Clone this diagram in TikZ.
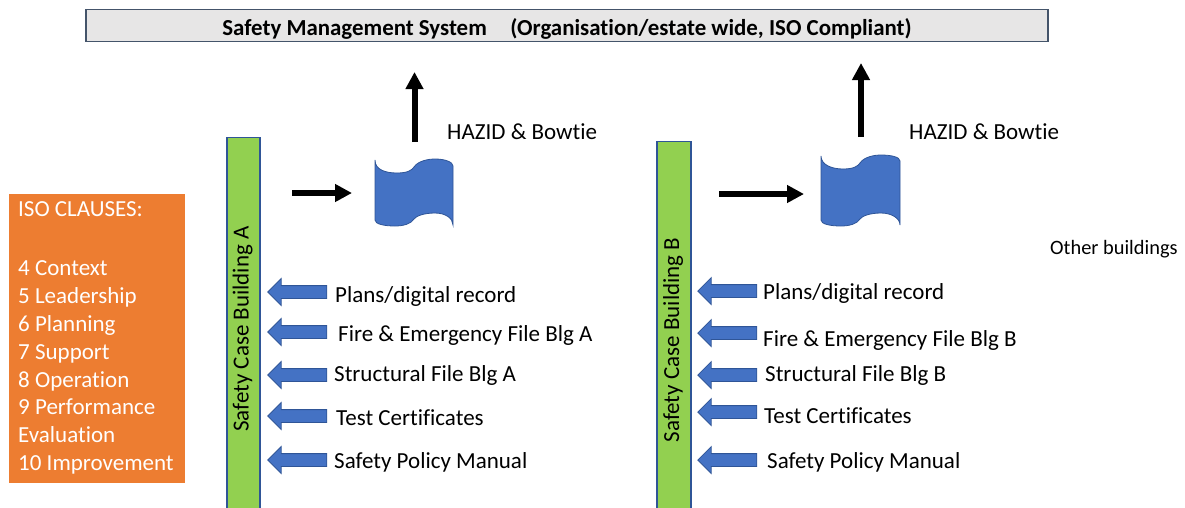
\documentclass[tikz,border=0pt]{standalone}
\usepackage{fontspec}
\setmainfont[Ligatures=NoCommon]{Carlito}
\usetikzlibrary{shapes.arrows,arrows.meta}
\definecolor{barblue}{HTML}{2F5597}
\definecolor{fillblue}{HTML}{4472C4}
\definecolor{bargreen}{HTML}{92D050}
\definecolor{isoorange}{HTML}{ED7D31}
\definecolor{smsgrey}{HTML}{E7E6E6}
\definecolor{smsedge}{HTML}{44546A}
\tikzset{
	barnode/.style={draw=barblue, line width=1.6pt, fill=bargreen, minimum width=33pt, inner sep=0pt, anchor=north west},
	filearrow/.style={single arrow, draw=barblue, line width=0.8pt, fill=fillblue, single arrow head extend=7pt, single arrow tip angle=90, minimum height=59pt, inner xsep=0pt, inner ysep=6pt, shape border rotate=180},
	filelabel/.style={anchor=west, font=\fontsize{23}{27}\selectfont, inner sep=0pt},
	blackarrow/.style={line width=6pt, -{Triangle[length=17pt, width=17pt]}},
	bartext/.style={rotate=90, font=\fontsize{23}{27}\selectfont, inner sep=0pt},
	wavefill/.style={draw=barblue, line width=0.8pt, fill=fillblue}
}
\begin{document}
\begin{tikzpicture}[x=1pt, y=-1pt]
	\useasboundingbox (0, 0) rectangle (1185, 507);
	
	\node (sms) [draw=smsedge, line width=1.4pt, fill=smsgrey, minimum width=962pt, minimum height=32pt, inner sep=0pt] at (567, 25.5) {};
	\node (smstext) [inner sep=0pt, font=\bfseries\fontsize{22.9}{27}\selectfont] at (567, 29)
		{Safety Management System\hspace{0.8em} (Organisation/estate wide, ISO Compliant)};
	
	\node (iso) [fill=isoorange, text=white, anchor=north west, minimum width=176pt, minimum height=289pt, inner sep=0pt] at (9, 194) {};
	\node (isotext) [anchor=north west, text=white, align=left, inner sep=0pt, font=\fontsize{23}{27.8}\selectfont] at (18, 201)
		{ISO CLAUSES:\\[32pt]4 Context\\5 Leadership\\6 Planning\\7 Support\\8 Operation\\9 Performance\\Evaluation\\10 Improvement};
	
	% building A
	\begin{scope}
		\clip (0, 0) rectangle (1185, 507);
		\node (barA) [barnode, minimum height=380pt] at (226.3, 136.5) {};
		\node (barB) [barnode, minimum height=376pt, minimum width=34pt] at (656.3, 140.5) {};
	\end{scope}
	\node (barAtext) [bartext] at (242.5, 329) {Safety Case Building A};
	\node (barBtext) [bartext] at (673, 340) {Safety Case Building B};
	
	\node (waveA) at (414, 193) {};
	\draw[wavefill] (375, 160) .. controls (375, 170) and (386, 173) .. (397, 173) .. controls (408, 173) and (412, 170) .. (414, 167) .. controls (418, 161) and (428, 159) .. (435, 159) .. controls (445, 159) and (453, 162) .. (453, 166) -- (453, 225) .. controls (453, 218) and (445, 213) .. (435, 213) .. controls (424, 213) and (416, 216) .. (414, 219) .. controls (411, 224) and (403, 226) .. (395, 226) .. controls (384, 226) and (375, 224) .. (375, 220) -- cycle;
	\node (waveB) at (860, 190) {};
	\draw[wavefill] (821, 156) .. controls (821, 165) and (832, 169) .. (843, 169) .. controls (854, 169) and (858, 166) .. (860, 163) .. controls (864, 157) and (874, 155) .. (881, 155) .. controls (891, 155) and (900, 157) .. (900, 161) -- (900, 225) .. controls (900, 218) and (891, 213) .. (881, 213) .. controls (870, 213) and (862, 216) .. (860, 219) .. controls (857, 224) and (849, 226) .. (841, 226) .. controls (830, 226) and (821, 224) .. (821, 220) -- cycle;
	
	\coordinate (startA) at (292, 193);
	\coordinate (endA) at (352, 193);
	\coordinate (startB) at (719, 194);
	\coordinate (endB) at (804, 194);
	\coordinate (upA) at (414.5, 142);
	\coordinate (topA) at (414.5, 72);
	\coordinate (upB) at (861, 137);
	\coordinate (topB) at (861, 63);
	\draw[blackarrow] (startA) -- (endA);
	\draw[blackarrow] (startB) -- (endB);
	\draw[blackarrow] (upA) -- (topA);
	\draw[blackarrow] (upB) -- (topB);
	
	\node (hazidA) [filelabel] at (447, 132) {HAZID \& Bowtie};
	\node (hazidB) [filelabel] at (909, 132) {HAZID \& Bowtie};
	\node (other) [filelabel, font=\fontsize{20.4}{24}\selectfont] at (1050, 249) {Other buildings};
	
	% file arrows
	\foreach \i/\y/\xx/\yy/\txt in {1/292/335/296/Plans\slash digital record, 2/332/338/335/Fire \& Emergency File Blg A, 3/375/334/375/Structural File Blg A, 4/416/336/418/Test Certificates, 5/460/334/462/Safety Policy Manual}{
		\node (arrA\i) [filearrow] at (300.5, \y) {};
		\node (fileA\i) [filelabel] at (\xx, \yy) {\txt};
	}
	\foreach \i/\y/\xx/\yy/\txt in {1/291/763/293/Plans\slash digital record, 2/333/763/340/Fire \& Emergency File Blg B, 3/375/765/375/Structural File Blg B, 4/412/764/416/Test Certificates, 5/460/767/462/Safety Policy Manual}{
		\node (arrB\i) [filearrow] at (730.5, \y) {};
		\node (fileB\i) [filelabel] at (\xx, \yy) {\txt};
	}
\end{tikzpicture}
\end{document}
